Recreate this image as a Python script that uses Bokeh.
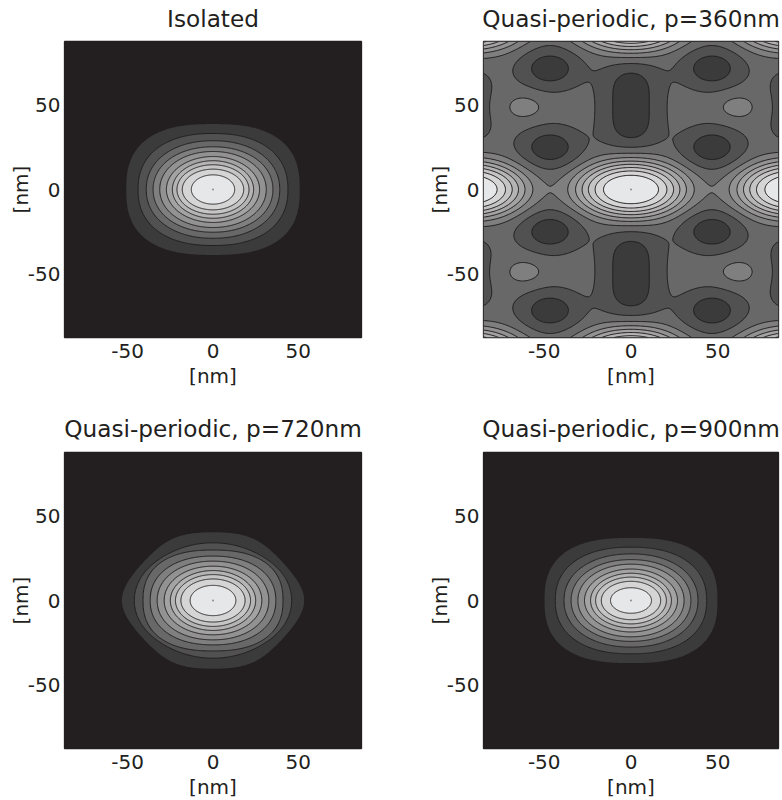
import numpy as np
from bokeh.core.properties import value
from bokeh.plotting import figure
from bokeh.layouts import column, row
from bokeh.models import Range1d, FixedTicker, ColumnDataSource
from bokeh.embed import file_html
from bokeh.resources import INLINE

FONT = "DejaVu Sans"
INK = "#231f20"

# ---------------- data ----------------
titles = ["Isolated", "Quasi-periodic, p=360nm",
          "Quasi-periodic, p=720nm", "Quasi-periodic, p=900nm"]
tick_values = [-50, 0, 50]
tick_labels = ["-50", "0", "50"]
axis_text = "[nm]"

# grey of each filled band, lowest level (background) to highest
band_colors = ["#231f20", "#3b3b3b", "#515151", "#686868", "#7f7f7f", "#929292",
               "#a3a3a3", "#b4b4b4", "#c5c5c5", "#d5d5d6", "#e6e7e8"]

# single-spot panels: contour boundaries, outer to inner (half-width x, half-height y, nm)
iso_a = [50.8, 43.9, 39.1, 35.1, 31.2, 27.3, 23.8, 21.1, 18.0, 12.7]
iso_b = [38.9, 33.3, 29.0, 25.4, 22.6, 19.6, 17.1, 14.7, 12.1, 8.7]
iso_n = [2.6, 2.3, 2.15, 2.1, 2.05, 2.0, 2.0, 2.0, 2.0, 2.0]
iso_d = [0, 0, 0, 0, 0, 0, 0, 0, 0, 0]

p720_a = [53.4, 46.1, 41.0, 36.8, 32.7, 28.6, 25.0, 22.0, 18.8, 13.4]
p720_b = [40.6, 34.3, 30.0, 26.4, 23.4, 20.4, 17.8, 15.4, 12.8, 9.0]
p720_n = [8.0, 3.5, 2.4, 2.2, 2.1, 2.05, 2.0, 2.0, 2.0, 2.0]
p720_d = [46.0, 39.0, 0, 0, 0, 0, 0, 0, 0, 0]

p900_a = [49.8, 43.6, 38.6, 34.5, 30.6, 26.8, 23.3, 20.4, 17.1, 11.8]
p900_b = [37.2, 31.7, 27.7, 24.3, 21.6, 18.7, 16.2, 13.9, 11.4, 7.6]
p900_n = [2.6, 2.3, 2.15, 2.1, 2.05, 2.0, 2.0, 2.0, 2.0, 2.0]
p900_d = [0, 0, 0, 0, 0, 0, 0, 0, 0, 0]

centre_x = [0]
centre_y = [0]

# p=360nm panel: field features (first quadrant, mirrored in x and y), in contour-level units
f360_base = 3.5
bright_x = [0, 93, 0, 93]
bright_y = [0, 0, 100, 100]
bright_amp = [7.5, 7.5, 7.5, 7.5]
bright_sx = [31, 31, 31, 31]
bright_sy = [16.5, 16.5, 16.5, 16.5]
bright_p = [2.9, 2.9, 2.9, 2.9]

dark_x = [0, 46.7, 46.7, 93]
dark_y = [50, 25, 72, 50]
dark_depth = [2.2, 2.2, 2.2, 0.9]
dark_sx = [17, 17, 17, 17]
dark_sy = [24.5, 12, 12, 24.5]
dark_q = [4, 2, 2, 4]

light_x = [62]
light_y = [49]
light_amp = [1.0]
light_sx = [12.0]
light_sy = [8.2]


# ---------------- helpers ----------------
def mirrored(x0, y0):
    pts = {(sx * x0, sy * y0) for sx in (1, -1) for sy in (1, -1)}
    return sorted(pts)


def ring_xy(a, b, n, d, m=361):
    t = np.linspace(0, 2 * np.pi, m)
    c, s = np.cos(t), np.sin(t)
    A = a * (1.12 if d else 1.0)
    F = np.abs(c / A) ** n + np.abs(s / b) ** n
    if d:
        h = np.sqrt(0.5)
        F = F + np.abs((c + s) * h / d) ** n + np.abs((c - s) * h / d) ** n
    r = F ** (-1.0 / n)
    xs, ys = r * c, r * s
    return xs * a / np.abs(xs).max(), ys * b / np.abs(ys).max()


def make_fig(xhalf, frame_w, left, right, top, bottom):
    p = figure(frame_width=frame_w, frame_height=296,
               x_range=Range1d(-xhalf, xhalf), y_range=Range1d(-88, 88),
               min_border_left=left, min_border_right=right,
               min_border_top=top, min_border_bottom=bottom,
               output_backend="svg", toolbar_location=None,
               background_fill_color=band_colors[0], border_fill_color="white")
    p.grid.visible = False
    p.outline_line_color = INK
    p.outline_line_width = 1.3
    for ax in (p.xaxis[0], p.yaxis[0]):
        ax.ticker = FixedTicker(ticks=tick_values)
        ax.major_label_overrides = {v: s for v, s in zip(tick_values, tick_labels)}
        ax.major_label_text_font = FONT
        ax.major_label_text_font_size = "20px"
        ax.major_label_text_color = INK
        ax.axis_label = axis_text
        ax.axis_label_text_font = FONT
        ax.axis_label_text_font_size = "20px"
        ax.axis_label_text_font_style = "normal"
        ax.axis_label_text_color = INK
        ax.major_tick_line_color = None
        ax.minor_tick_line_color = None
        ax.major_tick_out = 0
        ax.major_tick_in = 0
        ax.axis_line_color = None
    p.xaxis.major_label_standoff = 6
    p.xaxis.axis_label_standoff = 3
    p.yaxis.major_label_standoff = 4
    p.yaxis.axis_label_standoff = -8
    return p


def title_strip(height, baseline_from_top, centres, texts):
    # a thin, axis-less figure carrying the panel titles for one row
    s = figure(width=782, height=height, x_range=Range1d(0, 782), y_range=Range1d(0, height),
               min_border=0, output_backend="svg", toolbar_location=None,
               outline_line_color=None, border_fill_color="white",
               background_fill_color="white")
    s.axis.visible = False
    s.grid.visible = False
    src = ColumnDataSource(dict(x=centres, y=[height - baseline_from_top] * len(texts), t=texts))
    s.text("x", "y", text="t", source=src, text_align="center", text_baseline="alphabetic",
           text_font=value(FONT), text_font_size="23.2px", text_color=INK)
    return s


def add_rings(p, a_list, b_list, n_list, d_list):
    xs, ys, fills, alphas = [], [], [], []
    for k, (a, b, n, d) in enumerate(zip(a_list, b_list, n_list, d_list)):
        rx, ry = ring_xy(a, b, n, d)
        xs.append(rx.tolist())
        ys.append(ry.tolist())
        fills.append(band_colors[k + 1])
        alphas.append(0.0 if k == 0 else 1.0)
    src = ColumnDataSource(dict(xs=xs, ys=ys, fill=fills, la=alphas))
    p.patches("xs", "ys", source=src, fill_color="fill", line_color=INK,
              line_alpha="la", line_width=1)
    p.scatter(centre_x, centre_y, size=2, color="#8c8c8c", line_color=None)


def add_field360(p, xhalf):
    gx = np.linspace(-xhalf, xhalf, 341)
    gy = np.linspace(-88, 88, 353)
    X, Y = np.meshgrid(gx, gy)
    Z = np.full_like(X, f360_base)
    for bx, by, am, sx, sy, pw in zip(bright_x, bright_y, bright_amp,
                                      bright_sx, bright_sy, bright_p):
        for cx, cy in mirrored(bx, by):
            rho2 = ((X - cx) / sx) ** 2 + ((Y - cy) / sy) ** 2
            Z += am * np.exp(-rho2 ** (pw / 2))
    for dx, dy, dp, sx, sy, q in zip(dark_x, dark_y, dark_depth, dark_sx, dark_sy, dark_q):
        for cx, cy in mirrored(dx, dy):
            Z -= dp * np.exp(-((X - cx) / sx) ** 2) * np.exp(-(np.abs(Y - cy) / sy) ** q)
    for lx, ly, am, sx, sy in zip(light_x, light_y, light_amp, light_sx, light_sy):
        for cx, cy in mirrored(lx, ly):
            Z += am * np.exp(-((X - cx) / sx) ** 2 - ((Y - cy) / sy) ** 2)
    levels = [float(Z.min()) - 1] + [float(v) for v in range(1, 11)] + [float(Z.max()) + 1]
    p.contour(gx, gy, Z, levels, fill_color=band_colors, line_color=INK, line_width=1)
    p.scatter(centre_x, centre_y, size=2, color="#8c8c8c", line_color=None)


# ---------------- figures ----------------
# frames: left column x 64..361, right column x 483..778
p1 = make_fig(87, 297, 64, 30, 2, 63)
add_rings(p1, iso_a, iso_b, iso_n, iso_d)

p2 = make_fig(85, 295, 92, 4, 2, 63)
add_field360(p2, 85)

p3 = make_fig(87, 297, 64, 30, 2, 51)
add_rings(p3, p720_a, p720_b, p720_n, p720_d)

p4 = make_fig(85, 295, 92, 4, 2, 51)
add_rings(p4, p900_a, p900_b, p900_n, p900_d)

centres = [64 + 297 / 2, 483 + 295 / 2]
t1 = title_strip(39, 17.5, centres, titles[0:2])
t2 = title_strip(50, 28, centres, titles[2:4])

layout = column(t1, row(p1, p2, spacing=0), t2, row(p3, p4, spacing=0), spacing=0)

open("out.html", "w").write(file_html(layout, INLINE))
